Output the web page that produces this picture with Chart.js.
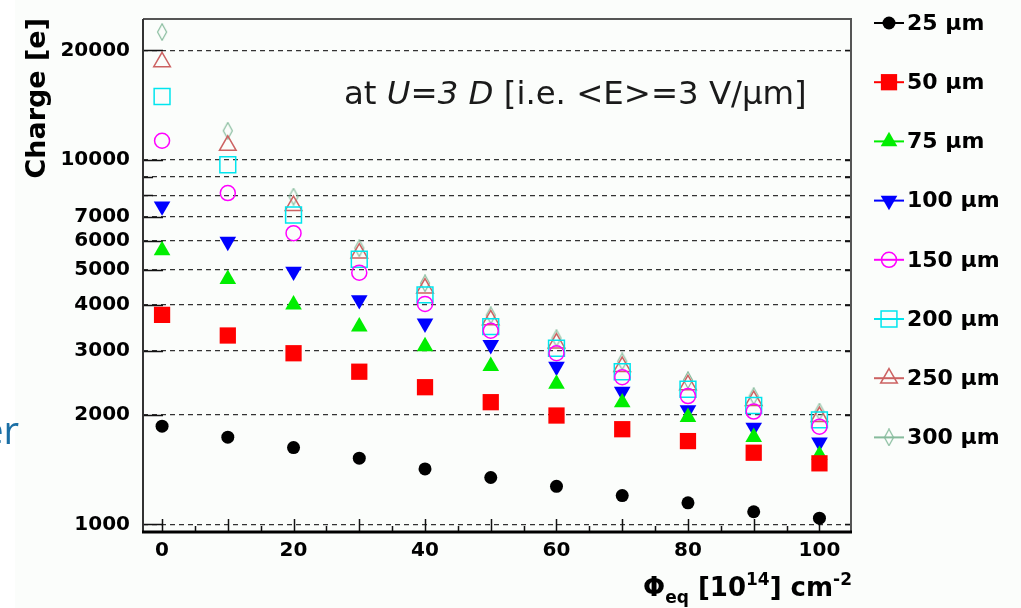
<!DOCTYPE html>
<html>
<head>
<meta charset="utf-8">
<script src="https://cdn.jsdelivr.net/npm/chart.js@4.4.1/dist/chart.umd.min.js"></script>
<style>
  html, body { margin: 0; padding: 0; background: #fbfdfb; }
  canvas { display: block; }
</style>
</head>
<body>
<canvas id="chart" width="1021" height="608"></canvas>
<script>
// fluence values (10^14 cm^-2)
const fluence = [0, 10, 20, 30, 40, 50, 60, 70, 80, 90, 100];

// collected charge [e] per electrode spacing
const q25  = [1860, 1735, 1625, 1520, 1420, 1345, 1272, 1200, 1146, 1083, 1040];
const q50  = [3760, 3300, 2950, 2625, 2380, 2165, 1990, 1825, 1693, 1573, 1471];
const q75  = [5650, 4710, 4010, 3490, 3080, 2720, 2430, 2160, 1970, 1735, 1550];
const q100 = [7470, 5975, 4945, 4130, 3565, 3110, 2710, 2315, 2060, 1845, 1680];
const q150 = [11300, 8120, 6300, 4910, 4030, 3400, 2950, 2535, 2250, 2040, 1855];
const q200 = [14950, 9710, 7070, 5345, 4265, 3490, 3045, 2625, 2350, 2120, 1935];
const q250 = [18600, 10970, 7500, 5550, 4450, 3640, 3145, 2710, 2415, 2185, 1975];
const q300 = [22470, 12040, 7940, 5730, 4590, 3750, 3245, 2800, 2490, 2250, 2040];

const seriesLabels = ['25 µm', '50 µm', '75 µm', '100 µm', '150 µm', '200 µm', '250 µm', '300 µm'];

// axis ticks
const yTicks = [1000, 2000, 3000, 4000, 5000, 6000, 7000, 8000, 9000, 10000, 20000];
const yLabels = [1000, 2000, 3000, 4000, 5000, 6000, 7000, 10000, 20000];
const xLabels = [0, 20, 40, 60, 80, 100];

function diamond(color) {
  const c = document.createElement('canvas');
  c.width = 12; c.height = 18;
  const g = c.getContext('2d');
  g.strokeStyle = color;
  g.lineWidth = 1.2;
  g.beginPath();
  g.moveTo(6, 0.8); g.lineTo(10.5, 9); g.lineTo(6, 17.2); g.lineTo(1.5, 9);
  g.closePath();
  g.stroke();
  return c;
}

const styles = [
  { color: '#000000', style: 'circle',   r: 6.5, filled: true },
  { color: '#ff0000', style: 'rect',     r: 11.5, filled: true },
  { color: '#00ee00', style: 'triangle', r: 9.6, filled: true },
  { color: '#0000ff', style: 'triangle', r: 9.6, filled: true, rot: 180 },
  { color: '#ff00ff', style: 'circle',   r: 7.5, filled: false },
  { color: '#00e5ee', style: 'rect',     r: 11.2, filled: false },
  { color: '#cc6262', style: 'triangle', r: 9.6, filled: false },
  { color: '#86bb9c', style: diamond('#86bb9c'), r: 8, filled: false }
];

const values = [q25, q50, q75, q100, q150, q200, q250, q300];

const datasets = values.map((vals, i) => {
  const s = styles[i];
  return {
    label: seriesLabels[i],
    data: fluence.map((f, k) => ({ x: f, y: vals[k] })),
    showLine: false,
    pointStyle: s.style,
    pointRadius: s.r,
    pointHoverRadius: s.r,
    pointRotation: s.rot || 0,
    pointBackgroundColor: s.filled ? s.color : 'rgba(0,0,0,0)',
    pointBorderColor: s.color,
    pointBorderWidth: s.filled ? 0 : 1.5
  };
});

const decor = {
  id: 'decor',
  beforeDraw(chart) {
    const ctx = chart.ctx;
    ctx.save();
    ctx.fillStyle = '#fbfdfb';
    ctx.fillRect(0, 0, chart.width, chart.height);
    ctx.fillStyle = '#ffffff';
    ctx.fillRect(0, 0, 15, chart.height);
    ctx.restore();
  },
  beforeDatasetsDraw(chart) {
    const { ctx, chartArea: a, scales: { x, y } } = chart;
    ctx.save();
    ctx.strokeStyle = '#111';
    ctx.lineWidth = 1.5;
    ctx.beginPath();
    yTicks.forEach(v => {
      const py = Math.round(y.getPixelForValue(v)) + 0.5;
      const len = yLabels.includes(v) ? 20 : 10;
      ctx.moveTo(a.left, py); ctx.lineTo(a.left + len, py);
      ctx.moveTo(a.right, py); ctx.lineTo(a.right - 6, py);
    });
    for (let v = 0; v <= 100; v += 5) {
      const px = Math.round(x.getPixelForValue(v)) + 0.5;
      ctx.moveTo(px, a.bottom); ctx.lineTo(px, a.bottom - (v % 10 === 0 ? 13 : 6));
    }
    ctx.stroke();
    // frame
    ctx.strokeStyle = '#555';
    ctx.lineWidth = 2;
    ctx.beginPath();
    ctx.moveTo(a.left, a.top); ctx.lineTo(a.right, a.top); ctx.lineTo(a.right, a.bottom);
    ctx.stroke();
    ctx.strokeStyle = '#333';
    ctx.beginPath();
    ctx.moveTo(a.left, a.top); ctx.lineTo(a.left, a.bottom);
    ctx.stroke();
    ctx.strokeStyle = '#000';
    ctx.lineWidth = 3;
    ctx.beginPath();
    ctx.moveTo(a.left - 1, a.bottom); ctx.lineTo(a.right + 1, a.bottom);
    ctx.stroke();
    ctx.restore();
  },
  afterDraw(chart) {
    const { ctx } = chart;
    ctx.save();
    ctx.fillStyle = '#000';

    // y title
    ctx.save();
    ctx.translate(45, 18);
    ctx.rotate(-Math.PI / 2);
    ctx.font = 'bold 27px "DejaVu Sans"';
    ctx.textAlign = 'right';
    ctx.textBaseline = 'alphabetic';
    ctx.fillText('Charge [e]', 0, 0);
    ctx.restore();

    // x title with sub/superscripts
    const big = 'bold 26px "DejaVu Sans"', small = 'bold 17px "DejaVu Sans"';
    const parts = [
      ['Φ', big, 0], ['eq', small, 7], [' [10', big, 0], ['14', small, -11],
      ['] cm', big, 0], ['-2', small, -11]
    ];
    let total = 0;
    parts.forEach(p => { ctx.font = p[1]; total += ctx.measureText(p[0]).width; });
    let px = 852 - total;
    ctx.textAlign = 'left';
    parts.forEach(p => {
      ctx.font = p[1];
      ctx.fillText(p[0], px, 596 + p[2]);
      px += ctx.measureText(p[0]).width;
    });

    // annotation
    ctx.fillStyle = '#1a1a1a';
    const note = [['at ', 'normal'], ['U=3 D', 'italic'], [' [i.e. <E>=3 V/µm]', 'normal']];
    let w30 = 0;
    note.forEach(p => { ctx.font = p[1] + ' 30px "DejaVu Sans"'; w30 += ctx.measureText(p[0]).width; });
    const fs = 30 * 463 / w30;
    let nx = 344;
    note.forEach(p => {
      ctx.font = p[1] + ' ' + fs + 'px "DejaVu Sans"';
      ctx.fillText(p[0], nx, 104);
      nx += ctx.measureText(p[0]).width;
    });

    // legend
    ctx.font = 'bold 22px "DejaVu Sans"';
    ctx.textBaseline = 'middle';
    chart.data.datasets.forEach((ds, i) => {
      const s = styles[i];
      const ly = 23 + i * 59.2;
      ctx.strokeStyle = s.color;
      ctx.lineWidth = 2;
      ctx.beginPath();
      ctx.moveTo(874, ly); ctx.lineTo(904, ly);
      ctx.stroke();
      ctx.fillStyle = s.filled ? s.color : 'rgba(0,0,0,0)';
      ctx.lineWidth = 1.5;
      Chart.helpers.drawPoint(ctx, {
        pointStyle: s.style, rotation: s.rot || 0, radius: s.r,
        borderWidth: s.filled ? 0 : 1.5
      }, 889, ly);
      ctx.fillStyle = '#000';
      ctx.fillText(ds.label, 907, ly + 1);
    });

    // fragment of slide text on the left
    ctx.fillStyle = '#1b6fa5';
    ctx.font = '38px "Open Sans"';
    ctx.textAlign = 'right';
    ctx.textBaseline = 'alphabetic';
    ctx.fillText('er', 19, 444);
    ctx.restore();
  }
};

new Chart(document.getElementById('chart'), {
  type: 'scatter',
  data: { datasets },
  options: {
    responsive: false,
    animation: false,
    events: [],
    layout: { padding: { top: 19, right: 170, left: 0, bottom: 0 } },
    plugins: { legend: { display: false }, tooltip: { enabled: false } },
    scales: {
      x: {
        type: 'linear',
        min: -2.9,
        max: 104.8,
        afterBuildTicks: s => { s.ticks = xLabels.map(v => ({ value: v })); },
        afterFit: s => { s.height = 76; s.paddingLeft = 0; s.paddingRight = 0; },
        grid: { display: false, drawTicks: false },
        border: { display: false },
        ticks: {
          padding: 7,
          color: '#000',
          font: { family: 'DejaVu Sans', weight: 'bold', size: 20 }
        }
      },
      y: {
        type: 'logarithmic',
        min: 953,
        max: 24400,
        afterBuildTicks: s => { s.ticks = yTicks.map(v => ({ value: v })); },
        afterFit: s => { s.width = 143; s.paddingTop = 0; s.paddingBottom = 0; },
        grid: { color: '#333', lineWidth: 1.3, drawTicks: false },
        border: { display: false, dash: [5, 4] },
        ticks: {
          autoSkip: false,
          padding: 13,
          color: '#000',
          font: { family: 'DejaVu Sans', weight: 'bold', size: 20 },
          callback: v => yLabels.includes(v) ? String(v) : ''
        }
      }
    }
  },
  plugins: [decor]
});
</script>
</body>
</html>
